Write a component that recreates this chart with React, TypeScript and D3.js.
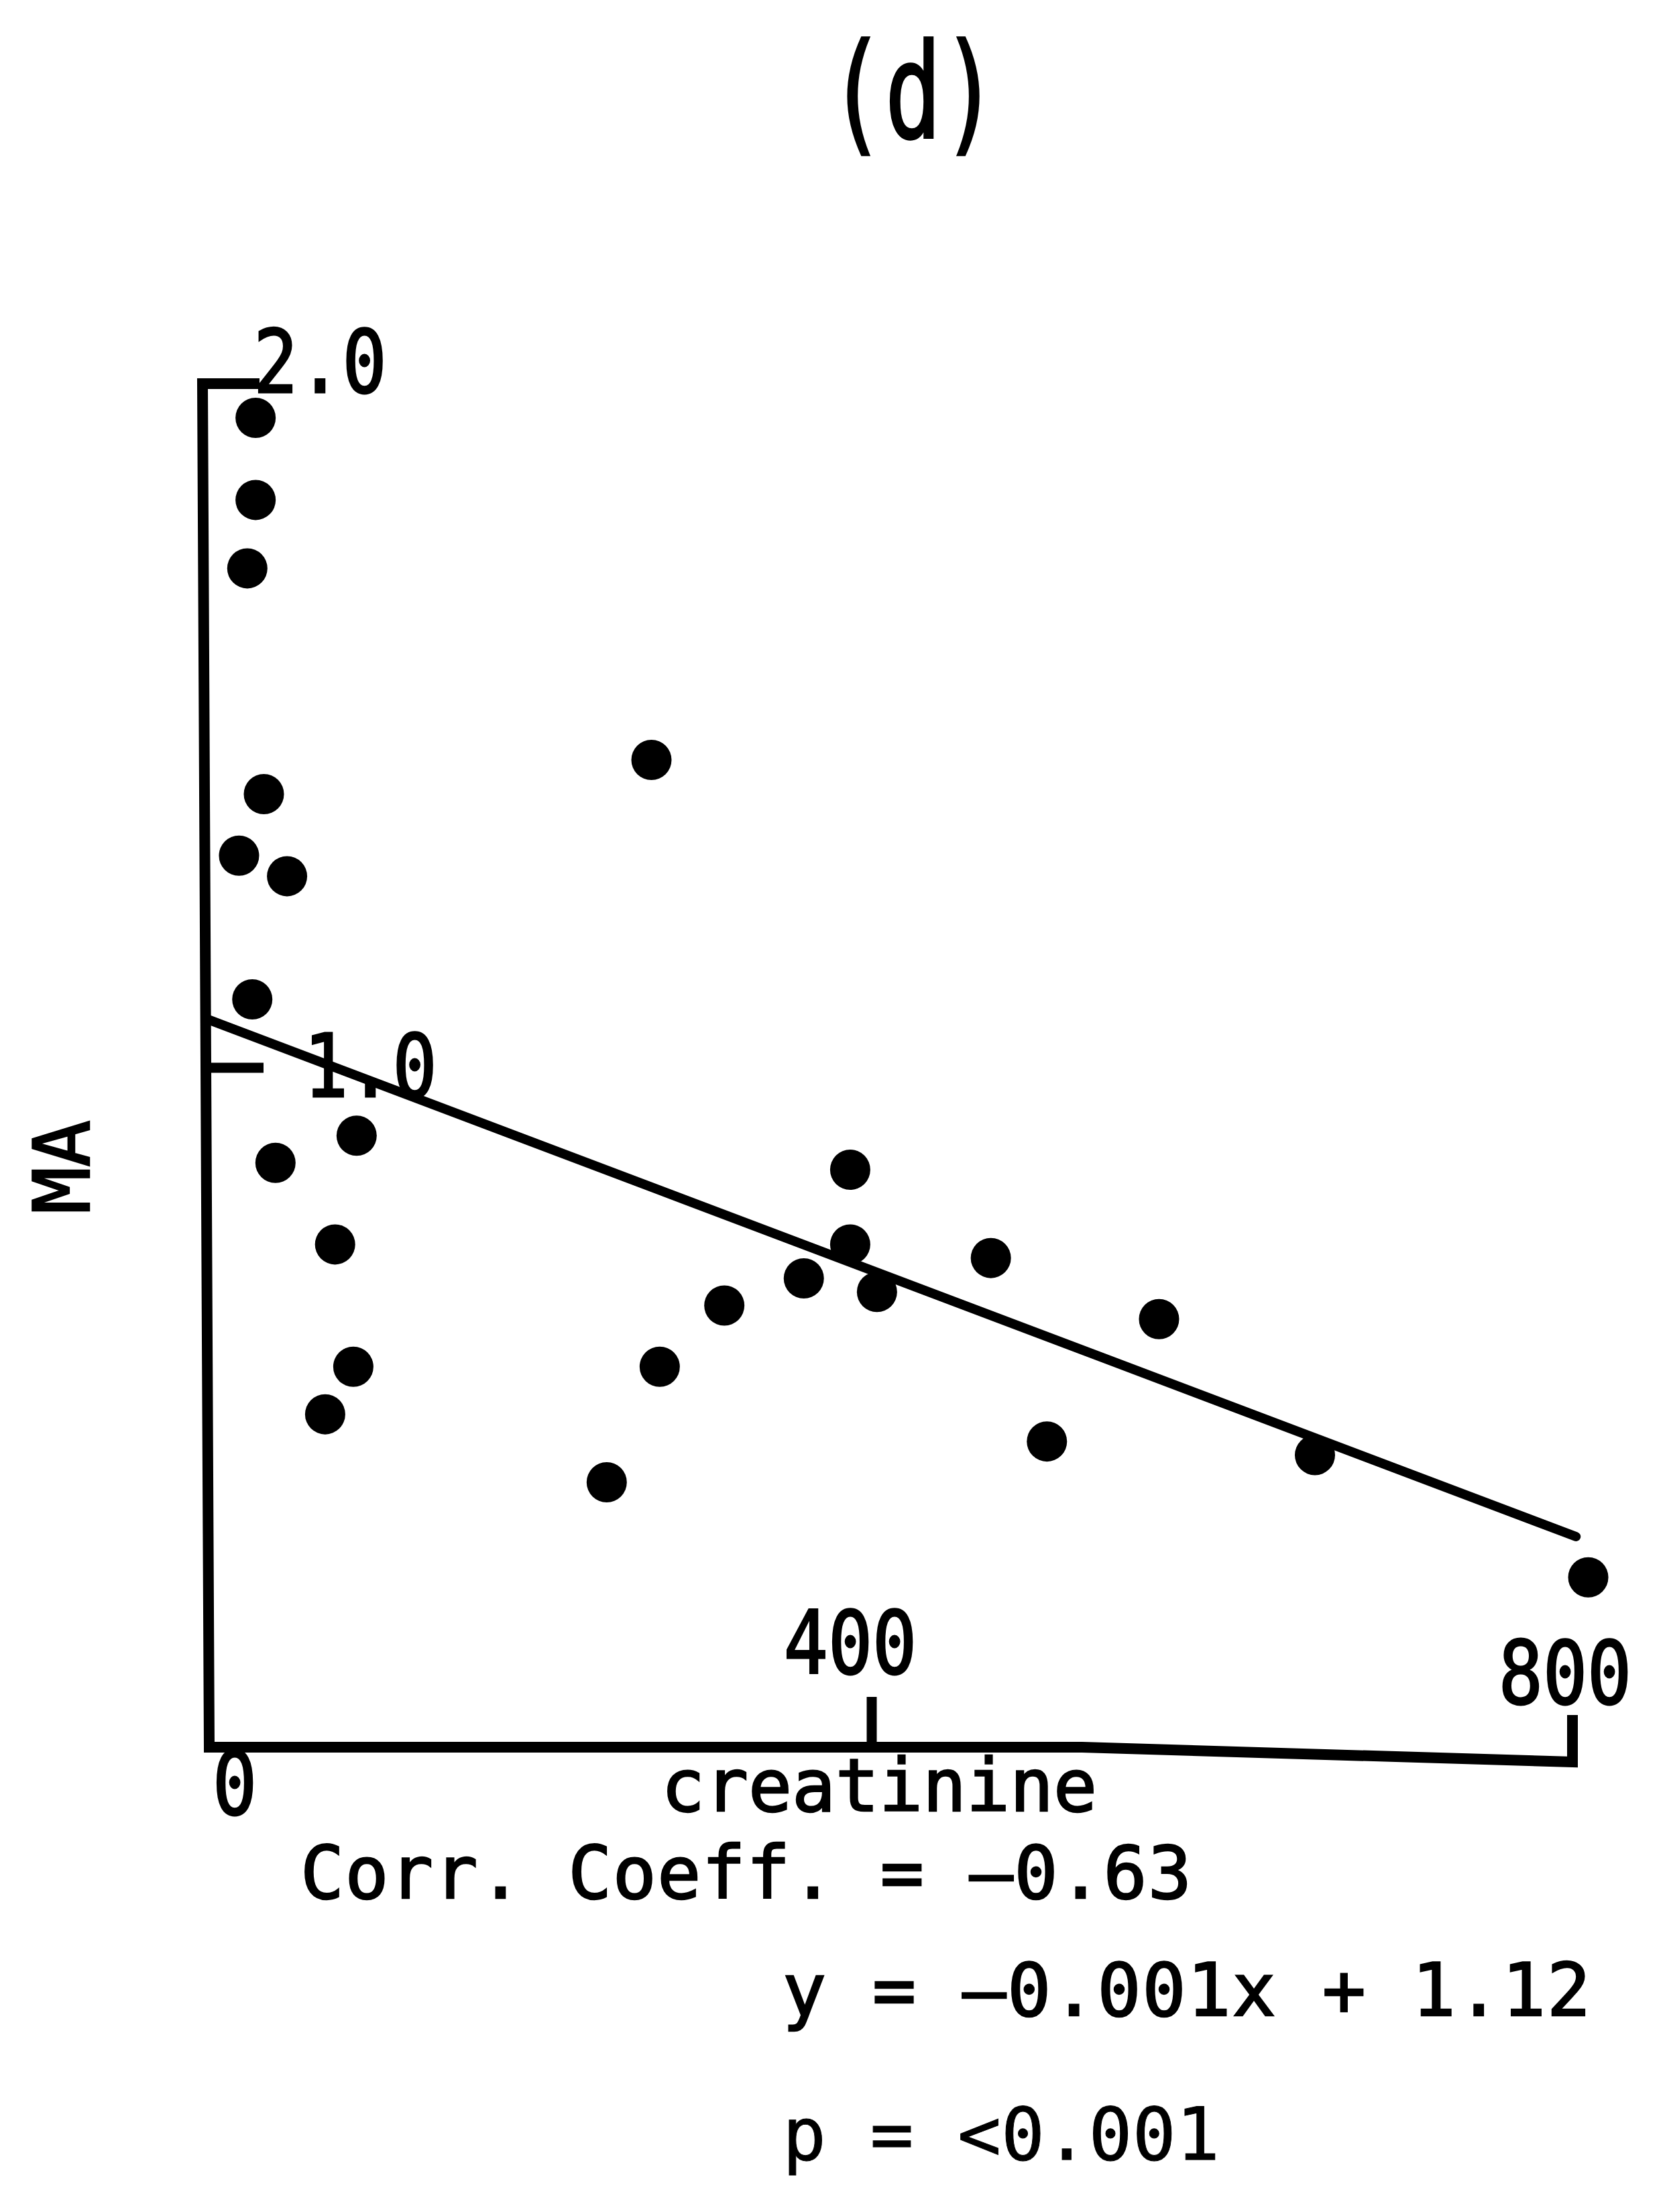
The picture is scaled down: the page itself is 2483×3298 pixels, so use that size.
import React from "react"
import * as d3 from "d3"

// values (creatinine vs MA)
const creatinine = [28, 28, 23, 33, 18, 47, 26, 40, 89, 76, 87, 70, 267, 240, 272, 311, 359, 387, 387, 403, 468, 500, 564, 653, 809]
const maValues = [1.95, 1.83, 1.73, 1.4, 1.31, 1.28, 1.1, 0.86, 0.9, 0.74, 0.56, 0.49, 1.45, 0.39, 0.56, 0.65, 0.69, 0.85, 0.74, 0.67, 0.72, 0.45, 0.63, 0.43, 0.25]

// regression line as drawn on the figure
const fitX = [0, 802]
const fitY = [1.07, 0.31]

const xTicks = [0, 400, 800]
const xTickLabels = ["0", "400", "800"]
const yTicks = [1.0, 2.0]
const yTickLabels = ["1.0", "2.0"]

const title = "(d)"
const xTitle = "creatinine"
const yTitle = "MA"
const statLines = ["Corr. Coeff. = –0.63", "y = –0.001x + 1.12", "p = <0.001"]

const W = 2483
const H = 3298
const FONT = "DejaVu Sans Mono"

export default function App() {
  // hand drawn axes are not quite even, so use piecewise scales
  const x = d3.scaleLinear().domain([0, 400, 800]).range([312, 1300, 2345])
  const y = d3.scaleLinear().domain([0, 1, 2]).range([2605, 1592, 572])

  const x0 = x(0)
  const y0 = y(0)

  // axis frame: 2.0 tick, y axis, x axis (sagging a bit on the right), 800 bracket
  const frame = d3.path()
  frame.moveTo(x0 + 75, y(2))
  frame.lineTo(x0 - 10, y(2))
  frame.lineTo(x0, y0)
  frame.lineTo(x(520), y0)
  frame.lineTo(x(800), y0 + 22)
  frame.lineTo(x(800), y0 - 48)

  const fitLine = d3
    .line<number>()
    .x((d) => x(fitX[d]))
    .y((d) => y(fitY[d]))

  // label nudges relative to their ticks (typed by hand on the original)
  const xLabelPos = [
    { dx: 38, dy: 100 },
    { dx: -32, dy: -110 },
    { dx: -11, dy: -65 }
  ]
  const yLabelPos = [
    { dx: 141, dy: 43 },
    { dx: 66, dy: 13 }
  ]

  // typewriter look: a little stroke to make the glyphs heavier
  const txt = {
    fontFamily: FONT,
    fontSize: 110,
    fill: "#000",
    stroke: "#000",
    strokeWidth: 2.5
  }

  return (
    <svg
      width={W}
      height={H}
      style={{ position: "absolute", left: 0, top: 0, background: "#fff" }}
    >
      <rect width={W} height={H} fill="#fff" />

      <text
        transform={`translate(1362,205) scale(1,1.4)`}
        textAnchor="middle"
        style={{ ...txt, fontSize: 140 }}
      >
        {title}
      </text>

      <path
        d={frame.toString()}
        fill="none"
        stroke="#000"
        strokeWidth={16}
        strokeLinejoin="miter"
      />
      {/* 1.0 tick pointing inward */}
      <line x1={x0 - 4} x2={x0 + 81} y1={y(1)} y2={y(1)} stroke="#000" strokeWidth={15} />
      {/* 400 tick pointing up */}
      <line x1={x(400)} x2={x(400)} y1={y0} y2={y0 - 75} stroke="#000" strokeWidth={15} />

      {xTicks.map((t, i) => (
        <text
          key={"xt" + i}
          transform={`translate(${x(t) + xLabelPos[i].dx},${y0 + xLabelPos[i].dy}) scale(1,1.18)`}
          textAnchor="middle"
          style={txt}
        >
          {xTickLabels[i]}
        </text>
      ))}
      {yTicks.map((t, i) => (
        <text
          key={"yt" + i}
          transform={`translate(${x0 + yLabelPos[i].dx},${y(t) + yLabelPos[i].dy}) scale(1,1.18)`}
          textAnchor="start"
          style={txt}
        >
          {yTickLabels[i]}
        </text>
      ))}

      <path
        d={fitLine([0, 1]) || ""}
        fill="none"
        stroke="#000"
        strokeWidth={14}
        strokeLinecap="round"
      />

      {creatinine.map((c, i) => (
        <circle key={"p" + i} cx={x(c)} cy={y(maValues[i])} r={30} fill="#000" />
      ))}

      <text
        transform="translate(133,1740) rotate(-90)"
        textAnchor="middle"
        style={{ ...txt, fontSize: 116 }}
      >
        {yTitle}
      </text>

      <text x={1311} y={2700} textAnchor="middle" style={{ ...txt, fontSize: 108 }}>
        {xTitle}
      </text>
      <text x={448} y={2830} style={{ ...txt, fontSize: 108 }} textLength={1329} lengthAdjust="spacing">
        {statLines[0]}
      </text>
      <text x={1167} y={3005} style={{ ...txt, fontSize: 108 }} textLength={1205} lengthAdjust="spacing">
        {statLines[1]}
      </text>
      <text x={1167} y={3220} style={{ ...txt, fontSize: 108, strokeWidth: 1 }} textLength={652} lengthAdjust="spacing">
        {statLines[2]}
      </text>
    </svg>
  )
}
